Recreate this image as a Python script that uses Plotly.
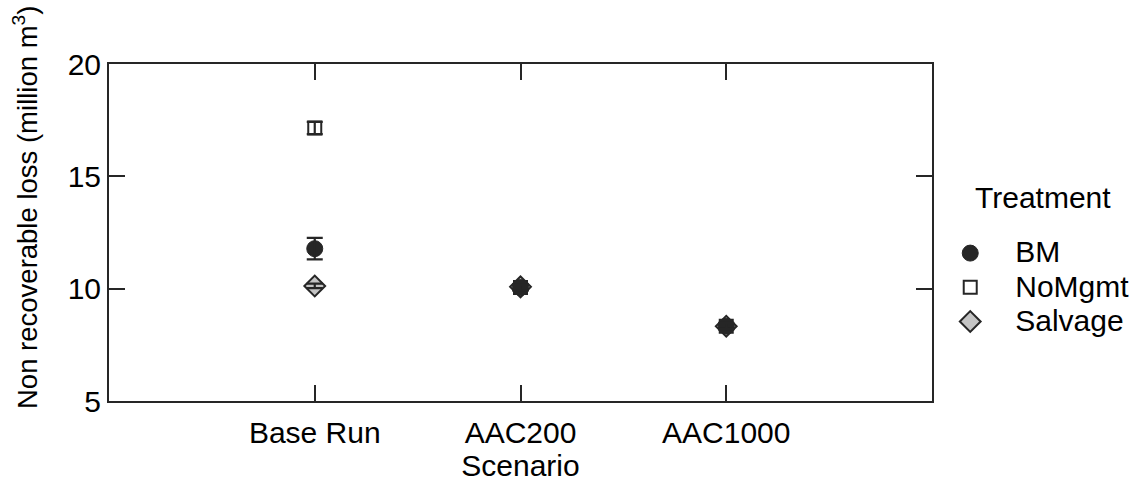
import plotly.graph_objects as go

scenarios = ["Base Run", "AAC200", "AAC1000"]
bm_vals = [11.78, 10.05, 8.33]
bm_err = [0.48, 0.12, 0.12]
nomgmt_vals = [17.15, 10.05, 8.33]
nomgmt_err = [0.27, 0.15, 0.15]
salvage_vals = [10.12, 10.08, 8.33]
salvage_err = [0.1, 0.1, 0.1]
legend_title = "Treatment"

dark = "#262626"
FONT = "Liberation Sans, Arial, sans-serif"


def lname(s):
    return "<span style='font-size:30px'>\u00a0\u00a0\u00a0" + s + "</span>"


fig = go.Figure()
fig.add_trace(go.Scatter(
    x=scenarios, y=salvage_vals, mode="markers", name=lname("Salvage"),
    marker=dict(symbol="diamond", size=16, color="#c4c4c4", line=dict(color=dark, width=2)),
    legendrank=3))
fig.add_trace(go.Scatter(
    x=scenarios, y=nomgmt_vals, mode="markers", name=lname("NoMgmt"),
    marker=dict(symbol="square", size=13, color="white", line=dict(color=dark, width=2)),
    legendrank=2))
fig.add_trace(go.Scatter(
    x=scenarios, y=bm_vals, mode="markers", name=lname("BM"),
    marker=dict(symbol="circle", size=16, color=dark, line=dict(color=dark, width=1)),
    legendrank=1))
# error bars drawn on top of the markers
for vals, err in [(salvage_vals, salvage_err), (nomgmt_vals, nomgmt_err), (bm_vals, bm_err)]:
    fig.add_trace(go.Scatter(
        x=scenarios, y=vals, mode="markers", showlegend=False, hoverinfo="skip",
        marker=dict(size=1, opacity=0),
        error_y=dict(type="data", array=err, color=dark, thickness=2.2, width=8)))

axis_common = dict(showline=True, linecolor=dark, linewidth=2, mirror="ticks",
                   ticks="inside", ticklen=16, tickwidth=2, tickcolor=dark,
                   showgrid=False, zeroline=False, automargin=False)

fig.update_layout(
    width=1138, height=482,
    margin=dict(l=109, r=206, t=64, b=81),
    paper_bgcolor="white", plot_bgcolor="white",
    font=dict(family=FONT, size=30, color="black"),
    xaxis=dict(**axis_common, type="category", range=[-1, 3],
               tickfont=dict(family=FONT, size=30, color="black"),
               ticklabelstandoff=4,
               title=dict(text="Scenario", standoff=14, font=dict(size=30))),
    yaxis=dict(**axis_common, range=[5, 20], tickvals=[5, 10, 15, 20],
               tickfont=dict(family=FONT, size=30, color="black")),
    legend=dict(xref="container", yref="container", x=0.835, y=1 - 231 / 482,
                xanchor="left", yanchor="top", font=dict(family=FONT, size=24),
                itemsizing="trace", tracegroupgap=0),
    showlegend=True,
    annotations=[
        dict(text="Non recoverable loss (million m<sup>3</sup>)",
             textangle=-90, xref="paper", yref="paper",
             x=(25 - 109) / 823, y=(401 - 207) / 337,
             xanchor="center", yanchor="middle", showarrow=False,
             font=dict(family=FONT, size=27.5, color="black")),
        dict(text=legend_title, xref="paper", yref="paper",
             x=(973 - 109) / 823, y=(401 - 197) / 337,
             xanchor="left", yanchor="middle", showarrow=False,
             font=dict(family=FONT, size=30, color="black")),
    ],
)
fig.write_html("out.html")
